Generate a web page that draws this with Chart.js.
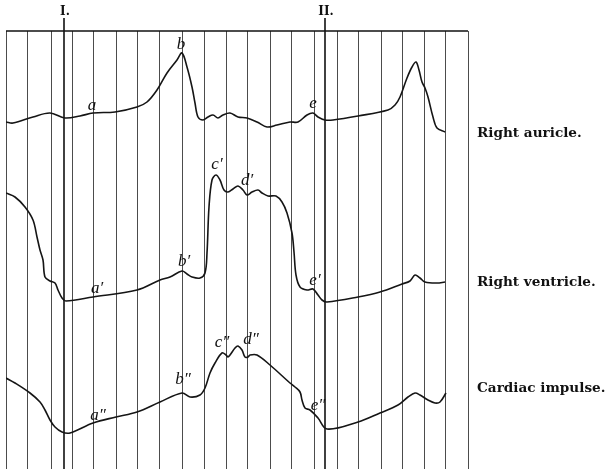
<!DOCTYPE html>
<html>
<head>
<meta charset="utf-8">
<script src="https://cdn.jsdelivr.net/npm/chart.js@4.4.1/dist/chart.umd.min.js"></script>
<style>
  body { margin: 0; background: #fff; }
  canvas { display: block; }
</style>
</head>
<body>
<canvas id="tracado" width="614" height="469"></canvas>
<script>
var auriculaX = [6,13,33,50,65,80,93,115,137,147,157,167,177,182,187,192,195,198,203,208,213,218,223,230,238,247,257,267,277,290,298,307,313,318,325,333,358,388,395,400,407,412,416,419,422,425,428,433,437,445];
var auriculaY = [122,123,117,113,118,116,113,112,107,102,90,73,60,53,67,87,103,117,120,117,115,118,115,113,117,118,122,127,125,122,122,115,113,117,120,120,116,110,105,97,78,67,62,70,82,88,97,117,128,132];

var ventriculoX = [6,15,25,33,37,40,43,45,50,55,58,62,66,93,137,160,170,182,187,192,200,205,207,209,212,216,220,224,228,233,238,243,247,252,258,262,268,276,282,287,292,294,296,300,307,313,318,322,327,358,380,402,410,415,420,425,437,445];
var ventriculoY = [193,197,207,220,237,250,260,277,281,283,290,298,301,297,290,280,277,271,274,277,278,273,253,207,180,175,180,190,192,189,186,190,195,192,190,193,196,196,202,213,233,252,275,287,290,289,295,300,302,297,292,284,281,275,278,282,283,282];

var choqueX = [6,15,30,40,45,50,55,62,70,93,116,137,160,182,190,200,205,210,215,222,226,228,230,235,238,242,245,248,250,257,270,290,295,300,302,305,310,318,327,358,380,398,408,415,420,428,435,440,446];
var choqueY = [378,383,393,402,410,420,427,432,433,423,417,412,402,393,397,395,388,373,363,353,355,357,355,348,346,350,357,357,355,355,365,383,387,392,400,408,410,418,429,422,413,405,397,393,395,400,403,402,393];

var nomesCurvas = ['Right auricle.', 'Right ventricle.', 'Cardiac impulse.'];

// linhas verticais de tempo e as duas marcas I. e II.
var linhasTempo = [6,27,51,72,93,116,137,159,182,204,226,247,270,291,314,337,358,381,402,424,445,468];
var marcasTempo = [64, 325];
var nomesMarcas = ['I.', 'II.'];

// letras do traçado
var letras = ['a','b','e','c′','d′','a′','b′','e′','a″','b″','c″','d″','e″'];
var letrasX = [92,181,313,217,247,97,184,315,98,183,222,251,318];
var letrasY = [106,45,104,165,181,289,262,281,416,380,343,340,406];

function juntar(xs, ys) {
    var pts = [];
    for (var i = 0; i < xs.length; i++) {
        pts.push({ x: xs[i], y: ys[i] });
    }
    return pts;
}

const desenhoFundo = {
    id: 'desenhoFundo',
    beforeDatasetsDraw(chart) {
        const ctx = chart.ctx;
        const sx = chart.scales.x;
        const area = chart.chartArea;
        ctx.save();
        ctx.strokeStyle = 'rgba(0,0,0,0.7)';
        ctx.lineWidth = 1;
        for (var i = 0; i < linhasTempo.length; i++) {
            var px = Math.round(sx.getPixelForValue(linhasTempo[i])) + 0.5;
            ctx.beginPath();
            ctx.moveTo(px, area.top);
            ctx.lineTo(px, area.bottom);
            ctx.stroke();
        }
        // linha horizontal de cima
        ctx.strokeStyle = '#111';
        ctx.lineWidth = 1.5;
        ctx.beginPath();
        ctx.moveTo(sx.getPixelForValue(linhasTempo[0]), area.top);
        ctx.lineTo(sx.getPixelForValue(linhasTempo[linhasTempo.length - 1]), area.top);
        ctx.stroke();
        // marcas I. e II.
        ctx.lineWidth = 1.6;
        ctx.fillStyle = '#111';
        ctx.font = 'bold 12px "DejaVu Serif"';
        ctx.textAlign = 'center';
        ctx.textBaseline = 'middle';
        for (var j = 0; j < marcasTempo.length; j++) {
            var mx = sx.getPixelForValue(marcasTempo[j]);
            ctx.beginPath();
            ctx.moveTo(mx, 18);
            ctx.lineTo(mx, area.bottom);
            ctx.stroke();
            ctx.fillText(nomesMarcas[j], mx + 1, 12);
        }
        ctx.restore();
    },
    afterDatasetsDraw(chart) {
        const ctx = chart.ctx;
        const sx = chart.scales.x;
        const sy = chart.scales.y;
        ctx.save();
        ctx.fillStyle = '#111';
        ctx.textAlign = 'center';
        ctx.textBaseline = 'middle';
        ctx.font = 'italic 17px "Liberation Serif"';
        for (var i = 0; i < letras.length; i++) {
            ctx.fillText(letras[i], sx.getPixelForValue(letrasX[i]), sy.getPixelForValue(letrasY[i]));
        }
        ctx.textAlign = 'left';
        ctx.font = 'bold 13.6px "DejaVu Serif"';
        var ajuste = [1, 0, -5];
        chart.data.datasets.forEach(function (ds, k) {
            var ultimo = ds.data[ds.data.length - 1];
            ctx.fillText(ds.label, 477, sy.getPixelForValue(ultimo.y + ajuste[k]));
        });
        ctx.restore();
    }
};

const dataTracado = {
    datasets: [{
        label: nomesCurvas[0],
        data: juntar(auriculaX, auriculaY)
    }, {
        label: nomesCurvas[1],
        data: juntar(ventriculoX, ventriculoY)
    }, {
        label: nomesCurvas[2],
        data: juntar(choqueX, choqueY)
    }]
};

const configTracado = {
    type: 'line',
    data: dataTracado,
    options: {
        responsive: false,
        animation: false,
        devicePixelRatio: 1,
        layout: {
            padding: { left: 6, right: 146, top: 31, bottom: 0 }
        },
        elements: {
            line: { borderColor: '#151515', borderWidth: 1.6, tension: 0.35, fill: false },
            point: { radius: 0 }
        },
        scales: {
            x: { type: 'linear', min: 6, max: 468, display: false },
            y: { type: 'linear', min: 31, max: 469, reverse: true, display: false }
        },
        plugins: {
            legend: { display: false },
            tooltip: { enabled: false }
        }
    },
    plugins: [desenhoFundo]
};

new Chart(document.getElementById('tracado'), configTracado);
</script>
</body>
</html>
